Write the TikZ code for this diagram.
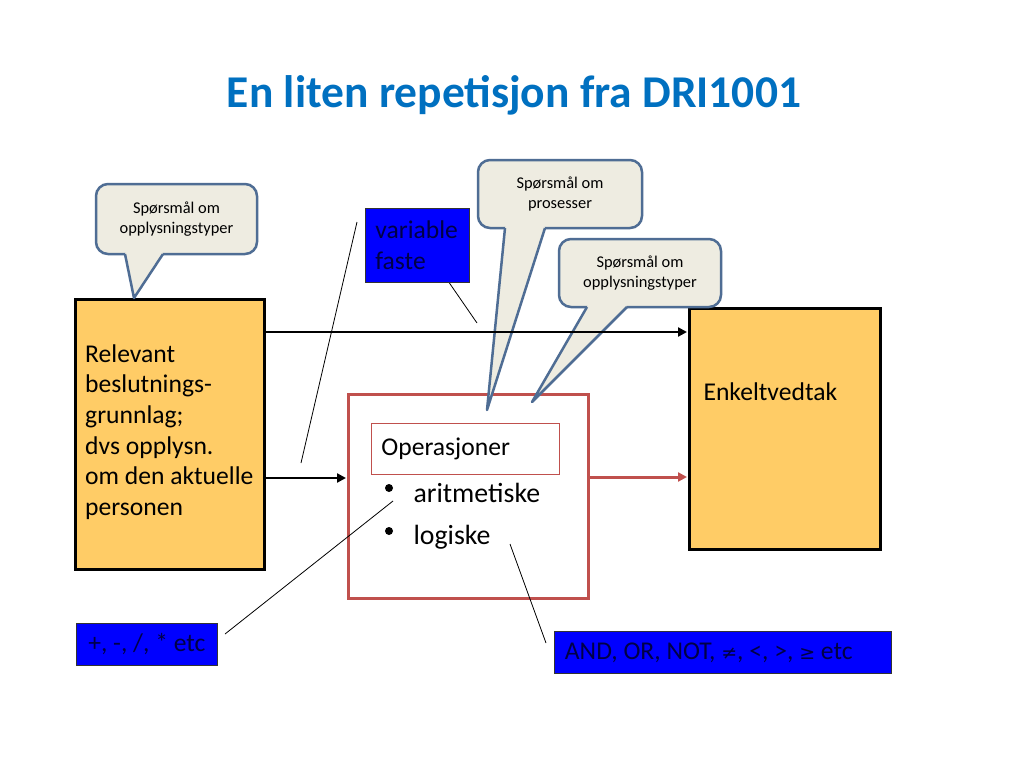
\documentclass[tikz,border=0pt]{standalone}
\usepackage{fontspec}
\setmainfont{Carlito}
\newfontfamily\symfont{DejaVu Sans}
\usetikzlibrary{arrows.meta,calc}

\definecolor{titleblue}{RGB}{0,112,192}
\definecolor{boxorange}{RGB}{255,204,102}
\definecolor{opsred}{RGB}{192,80,77}
\definecolor{notefill}{RGB}{238,236,225}
\definecolor{noteline}{RGB}{79,109,148}
\definecolor{inkblue}{RGB}{0,0,255}
\definecolor{inknavy}{RGB}{0,0,70}

\newcommand{\slidetitlefont}{\fontsize{45.5}{54}\selectfont\bfseries}
\newcommand{\txtbody}{\fontsize{25.6}{30.7}\selectfont}
\newcommand{\txtlist}{\fontsize{27.8}{33}\selectfont}
\newcommand{\txtnote}{\fontsize{16.4}{19.2}\selectfont}
\newcommand{\sym}[1]{{\symfont\fontsize{19}{24}\selectfont #1}}

% tail of a speech bubble: base left, base right, tip
\newcommand{\notetail}[3]{%
  \fill[notefill] ($(#1)+(1,-3)$) -- (#1) -- (#3) -- (#2) -- ($(#2)+(-1,-3)$) -- cycle;
  \draw[noteline,line width=2.5,line join=round] (#1) -- (#3) -- (#2);}

\tikzset{
  orangebox/.style={draw=black,line width=3,fill=boxorange,anchor=north west,inner sep=0},
  bluebox/.style={draw=black!80,line width=0.8,fill=inkblue,text=inknavy,anchor=north west,
    inner xsep=10,inner ysep=0,font=\txtbody},
  note/.style={draw=noteline,line width=2.5,fill=notefill,rounded corners=12,
    align=center,inner sep=0,font=\txtnote},
  flow/.style={line width=2.5,-{Triangle[length=9,width=9]},shorten >=1},
  pointer/.style={line width=0.8}
}

\begin{document}
\begin{tikzpicture}[x=1pt,y=-1pt]
\fill[white] (0,0) rectangle (1024,768);
\useasboundingbox (0,0) rectangle (1024,768);

\node[anchor=base,font=\slidetitlefont,text=titleblue] (title) at (514,107) {En liten repetisjon fra DRI1001};

% boxes
\node[orangebox,minimum width=189,minimum height=270] (grunnlag) at (74,298) {};
\node[anchor=west,align=left,inner sep=0,font=\txtbody] (grunnlagtxt) at (85,432)
  {Relevant\\beslutnings-\\grunnlag;\\dvs opplysn.\\om den aktuelle\\personen};
\node[orangebox,minimum width=191,minimum height=241] (vedtak) at (688,307) {};
\node[anchor=base west,font=\txtbody] (vedtaktxt) at (700,400) {Enkeltvedtak};

\node[draw=opsred,line width=3,minimum width=240,minimum height=204,anchor=north west] (ops) at (347,393) {};
\node[draw=opsred,line width=0.8,anchor=north west,minimum height=51,text width=168,inner xsep=10,align=left,font=\txtbody] (opstitle) at (371,423) {Operasjoner};
\fill (389,488) circle (4);
\fill (389,531) circle (4);
\node[anchor=base west,font=\txtlist] (arit) at (410,502) {aritmetiske};
\node[anchor=base west,font=\txtlist] (logi) at (410,544) {logiske};

% speech bubbles
\node[note,minimum width=161,minimum height=70] (q1) at (176.5,219) {Spørsmål om\\opplysningstyper};
\coordinate (q1a) at (125,254);
\coordinate (q1b) at (163,254);
\coordinate (q1tip) at (134,298);
\notetail{q1a}{q1b}{q1tip}

\node[note,minimum width=164,minimum height=68] (q2) at (560,194) {Spørsmål om\\prosesser};
\coordinate (q2a) at (505,228);
\coordinate (q2b) at (545,228);
\coordinate (q2tip) at (487,410);
\notetail{q2a}{q2b}{q2tip}

\node[note,minimum width=162,minimum height=68] (q3) at (640,273) {Spørsmål om\\opplysningstyper};
\coordinate (q3a) at (587,307);
\coordinate (q3b) at (627,307);
\coordinate (q3tip) at (532,402);
\notetail{q3a}{q3b}{q3tip}

% arrows
\coordinate (topA) at (264,332);
\draw[flow] (topA) -- (topA -| vedtak.west);
\coordinate (midA) at (264,478);
\draw[flow] (midA) -- (midA -| ops.west);
\coordinate (redA) at (587,477);
\draw[flow,line width=3,draw=opsred,fill=opsred] (redA) -- (redA -| vedtak.west);

% pointer lines
\coordinate (p1a) at (357,222);
\coordinate (p1b) at (301,463);
\draw[pointer] (p1a) -- (p1b);
\coordinate (p2a) at (437,265);
\coordinate (p2b) at (477,323);
\draw[pointer] (p2a) -- (p2b);
\coordinate (p3a) at (393,501);
\coordinate (p3b) at (225,634);
\draw[pointer] (p3a) -- (p3b);
\coordinate (p4a) at (510,544);
\coordinate (p4b) at (546,643);
\draw[pointer] (p4a) -- (p4b);

% blue labels
\node[bluebox,text width=84,align=left,minimum height=74] (varfaste) at (365,208) {variable\\faste};
\node[bluebox,minimum width=141,minimum height=42] (aritops) at (76,623) {+, -, /, * etc};
\node[bluebox,inner xsep=10.5,minimum height=42] (logops) at (554,631)
  {\makebox[316pt][l]{AND, OR, NOT, \sym{≠}, <, >, \sym{≥} etc}};
\end{tikzpicture}
\end{document}
